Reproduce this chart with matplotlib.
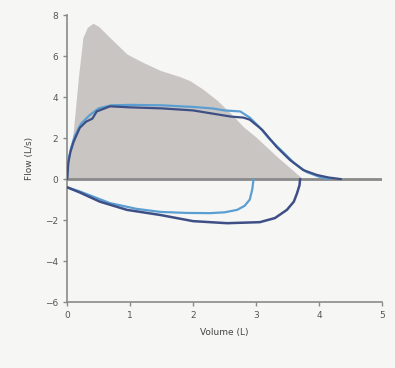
import matplotlib
matplotlib.use("Agg")
import matplotlib.pyplot as plt
import numpy as np

# Predicted (normal) envelope - gray area
pred_vol = [0, 0.05, 0.1, 0.18, 0.25, 0.32, 0.41, 0.5, 0.68, 0.95, 1.2, 1.48, 1.79, 1.95, 2.15, 2.38, 2.6, 2.8, 3.0, 3.17, 3.35, 3.54, 3.65, 3.75]
pred_flow = [0, 1.2, 2.4, 5.0, 6.9, 7.4, 7.6, 7.45, 6.9, 6.1, 5.7, 5.3, 5.0, 4.8, 4.4, 3.85, 3.2, 2.55, 2.05, 1.56, 1.05, 0.55, 0.25, 0]

# Dark loop
dark_exp_vol = [0, 0.02, 0.05, 0.1, 0.2, 0.3, 0.4, 0.47, 0.68, 1.0, 1.5, 2.0, 2.4, 2.6, 2.8, 2.9, 3.1, 3.33, 3.54, 3.75, 3.97, 4.15, 4.35]
dark_exp_flow = [0, 0.8, 1.3, 1.8, 2.5, 2.8, 2.95, 3.3, 3.55, 3.5, 3.45, 3.35, 3.15, 3.05, 3.0, 2.9, 2.4, 1.56, 0.93, 0.44, 0.2, 0.08, 0]
dark_insp_vol = [0, 0.2, 0.52, 0.95, 1.48, 2.0, 2.54, 3.06, 3.3, 3.49, 3.6, 3.65, 3.69, 3.7]
dark_insp_flow = [-0.4, -0.65, -1.1, -1.5, -1.75, -2.05, -2.15, -2.1, -1.9, -1.5, -1.1, -0.7, -0.3, 0]

# Light loop
light_exp_vol = [0, 0.02, 0.06, 0.12, 0.22, 0.35, 0.5, 0.7, 1.0, 1.5, 2.0, 2.3, 2.5, 2.75, 2.9, 3.05, 3.2, 3.4, 3.6, 3.8, 4.0, 4.15]
light_exp_flow = [0, 0.9, 1.5, 2.1, 2.7, 3.1, 3.45, 3.6, 3.62, 3.6, 3.52, 3.45, 3.35, 3.3, 3.0, 2.55, 2.0, 1.4, 0.8, 0.35, 0.12, 0]
light_insp_vol = [0, 0.2, 0.68, 1.1, 1.48, 1.9, 2.27, 2.5, 2.7, 2.82, 2.9, 2.94, 2.96]
light_insp_flow = [-0.4, -0.6, -1.17, -1.45, -1.6, -1.65, -1.66, -1.62, -1.5, -1.3, -1.0, -0.5, 0]

x_ticks = [0, 1, 2, 3, 4, 5]
y_ticks = [-6, -4, -2, 0, 2, 4, 6, 8]

bg = "#f6f6f5"
fig = plt.figure(figsize=(3.95, 3.68), dpi=100, facecolor=bg)
ax = fig.add_axes([0.17, 0.179, 0.797, 0.78], facecolor=bg)

ax.fill_between(pred_vol, pred_flow, 0, color="#c9c5c3", lw=0, zorder=1)
ax.plot([0, 5], [0, 0], color="#8a8a8a", lw=2.0, zorder=2)

kw = dict(solid_joinstyle="round", solid_capstyle="round")
ax.plot(light_exp_vol, light_exp_flow, color="#5b9fd2", lw=1.6, zorder=3, **kw)
ax.plot(light_insp_vol, light_insp_flow, color="#5b9fd2", lw=1.6, zorder=3, **kw)
ax.plot(dark_exp_vol, dark_exp_flow, color="#3e4f86", lw=1.6, zorder=4, **kw)
ax.plot(dark_insp_vol, dark_insp_flow, color="#3e4f86", lw=1.8, zorder=4, **kw)

ax.set_xlim(0, 5)
ax.set_ylim(-6, 8)
ax.set_xticks(x_ticks)
ax.set_yticks(y_ticks)
for s in ["top", "right"]:
    ax.spines[s].set_visible(False)
for s in ["left", "bottom"]:
    ax.spines[s].set_color("#8a8a8a")
    ax.spines[s].set_linewidth(1.2)
ax.tick_params(colors="#8a8a8a", labelcolor="#555555", labelsize=6.5, length=3, width=1)
ax.set_xlabel("Volume (L)", fontsize=6.5, color="#444444", labelpad=6)
ax.set_ylabel("Flow (L/s)", fontsize=6.5, color="#444444", labelpad=8)

fig.savefig("out.png", dpi=100, facecolor=bg)
